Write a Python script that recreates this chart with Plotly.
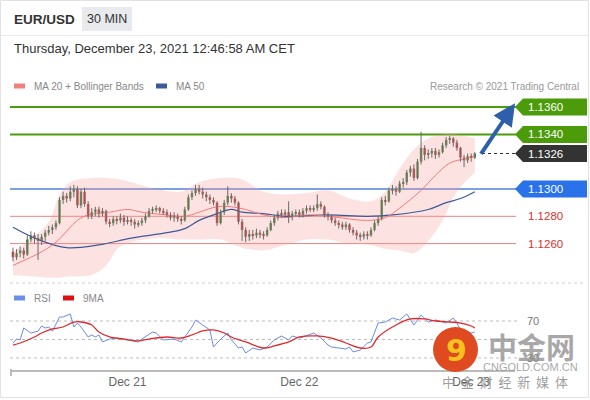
import pandas as pd
import plotly.graph_objects as go

# 30-minute EUR/USD bars, Dec 20 08:00 -> Dec 23 00:30
times = pd.date_range("2021-12-20 08:00", periods=130, freq="30min")

opens = [1.1254, 1.1250, 1.1253, 1.1255, 1.1252, 1.1263, 1.1266, 1.1264, 1.1262, 1.1265,
         1.1268, 1.1270, 1.1272, 1.1275, 1.1292, 1.1295, 1.1293, 1.1298, 1.1300, 1.1288,
         1.1298, 1.1289, 1.1280, 1.1283, 1.1285, 1.1282, 1.1284, 1.1276, 1.1275, 1.1278,
         1.1277, 1.1279, 1.1276, 1.1277, 1.1276, 1.1274, 1.1275, 1.1277, 1.1280, 1.1284,
         1.1285, 1.1286, 1.1284, 1.1283, 1.1281, 1.1279, 1.1280, 1.1278, 1.1277, 1.1285,
         1.1294, 1.1297, 1.1300, 1.1298, 1.1296, 1.1294, 1.1292, 1.1290, 1.1275, 1.1283,
         1.1290, 1.1295, 1.1293, 1.1290, 1.1276, 1.1270, 1.1265, 1.1267, 1.1266, 1.1268,
         1.1267, 1.1266, 1.1270, 1.1275, 1.1279, 1.1282, 1.1281, 1.1283, 1.1280, 1.1282,
         1.1283, 1.1281, 1.1284, 1.1286, 1.1285, 1.1286, 1.1289, 1.1287, 1.1281, 1.1280,
         1.1277, 1.1275, 1.1274, 1.1272, 1.1274, 1.1270, 1.1268, 1.1266, 1.1265, 1.1267,
         1.1266, 1.1270, 1.1275, 1.1278, 1.1292, 1.1291, 1.1299, 1.1300, 1.1298, 1.1304,
         1.1305, 1.1312, 1.1315, 1.1308, 1.1320, 1.1330, 1.1325, 1.1326, 1.1328, 1.1325,
         1.1327, 1.1332, 1.1336, 1.1337, 1.1334, 1.1330, 1.1323, 1.1321, 1.1324, 1.1323]
highs = [1.1257, 1.1256, 1.1258, 1.1257, 1.1266, 1.1269, 1.1268, 1.1267, 1.1267, 1.1270,
         1.1273, 1.1274, 1.1277, 1.1294, 1.1298, 1.1297, 1.1302, 1.1303, 1.1302, 1.1300,
         1.1301, 1.1291, 1.1286, 1.1287, 1.1287, 1.1286, 1.1285, 1.1278, 1.1280, 1.1280,
         1.1282, 1.1281, 1.1280, 1.1279, 1.1278, 1.1277, 1.1279, 1.1282, 1.1286, 1.1287,
         1.1288, 1.1287, 1.1286, 1.1285, 1.1283, 1.1283, 1.1282, 1.1280, 1.1287, 1.1296,
         1.1299, 1.1303, 1.1303, 1.1301, 1.1298, 1.1296, 1.1294, 1.1291, 1.1285, 1.1292,
         1.1302, 1.1297, 1.1295, 1.1291, 1.1278, 1.1272, 1.1270, 1.1270, 1.1271, 1.1270,
         1.1269, 1.1272, 1.1277, 1.1281, 1.1284, 1.1285, 1.1285, 1.1291, 1.1284, 1.1285,
         1.1285, 1.1286, 1.1288, 1.1288, 1.1288, 1.1296, 1.1291, 1.1288, 1.1283, 1.1281,
         1.1279, 1.1277, 1.1276, 1.1276, 1.1275, 1.1272, 1.1270, 1.1268, 1.1269, 1.1269,
         1.1272, 1.1277, 1.1280, 1.1294, 1.1295, 1.1301, 1.1303, 1.1302, 1.1306, 1.1308,
         1.1314, 1.1317, 1.1318, 1.1322, 1.1342, 1.1332, 1.1329, 1.1330, 1.1330, 1.1329,
         1.1334, 1.1338, 1.1339, 1.1338, 1.1336, 1.1331, 1.1325, 1.1326, 1.1326, 1.1327]
lows = [1.1247, 1.1248, 1.1250, 1.1249, 1.1251, 1.1261, 1.1260, 1.1248, 1.1259, 1.1262,
        1.1266, 1.1267, 1.1270, 1.1274, 1.1289, 1.1290, 1.1291, 1.1294, 1.1286, 1.1286,
        1.1287, 1.1278, 1.1278, 1.1280, 1.1279, 1.1280, 1.1274, 1.1272, 1.1273, 1.1274,
        1.1275, 1.1273, 1.1274, 1.1273, 1.1271, 1.1272, 1.1273, 1.1275, 1.1279, 1.1282,
        1.1283, 1.1282, 1.1281, 1.1279, 1.1277, 1.1276, 1.1276, 1.1274, 1.1276, 1.1284,
        1.1292, 1.1295, 1.1296, 1.1293, 1.1291, 1.1289, 1.1288, 1.1273, 1.1274, 1.1281,
        1.1288, 1.1290, 1.1288, 1.1274, 1.1262, 1.1261, 1.1262, 1.1263, 1.1264, 1.1264,
        1.1263, 1.1265, 1.1269, 1.1273, 1.1277, 1.1279, 1.1279, 1.1275, 1.1277, 1.1280,
        1.1279, 1.1279, 1.1282, 1.1283, 1.1283, 1.1284, 1.1285, 1.1279, 1.1277, 1.1275,
        1.1273, 1.1271, 1.1270, 1.1270, 1.1268, 1.1266, 1.1263, 1.1262, 1.1263, 1.1263,
        1.1265, 1.1269, 1.1273, 1.1277, 1.1288, 1.1290, 1.1296, 1.1295, 1.1297, 1.1301,
        1.1303, 1.1309, 1.1306, 1.1307, 1.1318, 1.1321, 1.1322, 1.1323, 1.1322, 1.1323,
        1.1326, 1.1330, 1.1333, 1.1331, 1.1328, 1.1320, 1.1316, 1.1319, 1.1320, 1.1322]
closes = [1.1250, 1.1253, 1.1255, 1.1252, 1.1263, 1.1266, 1.1264, 1.1262, 1.1265, 1.1268,
          1.1270, 1.1272, 1.1275, 1.1292, 1.1295, 1.1293, 1.1298, 1.1300, 1.1288, 1.1298,
          1.1289, 1.1280, 1.1283, 1.1285, 1.1282, 1.1284, 1.1276, 1.1275, 1.1278, 1.1277,
          1.1279, 1.1276, 1.1277, 1.1276, 1.1274, 1.1275, 1.1277, 1.1280, 1.1284, 1.1285,
          1.1286, 1.1284, 1.1283, 1.1281, 1.1279, 1.1280, 1.1278, 1.1277, 1.1285, 1.1294,
          1.1297, 1.1300, 1.1298, 1.1296, 1.1294, 1.1292, 1.1290, 1.1275, 1.1283, 1.1290,
          1.1295, 1.1293, 1.1290, 1.1276, 1.1270, 1.1265, 1.1267, 1.1266, 1.1268, 1.1267,
          1.1266, 1.1270, 1.1275, 1.1279, 1.1282, 1.1281, 1.1283, 1.1280, 1.1282, 1.1283,
          1.1281, 1.1284, 1.1286, 1.1285, 1.1286, 1.1289, 1.1287, 1.1281, 1.1280, 1.1277,
          1.1275, 1.1274, 1.1272, 1.1274, 1.1270, 1.1268, 1.1266, 1.1265, 1.1267, 1.1266,
          1.1270, 1.1275, 1.1278, 1.1292, 1.1291, 1.1299, 1.1300, 1.1298, 1.1304, 1.1305,
          1.1312, 1.1315, 1.1308, 1.1320, 1.1330, 1.1325, 1.1326, 1.1328, 1.1325, 1.1327,
          1.1332, 1.1336, 1.1337, 1.1334, 1.1330, 1.1323, 1.1321, 1.1324, 1.1323, 1.1326]

# indicators at a subset of bars
ma20_idx = [0, 8, 12, 18, 21, 27, 32, 36, 43, 48, 52, 57, 61, 65, 70, 76, 82, 88, 99, 104, 108, 114, 118, 122, 126, 129]
ma20_val = [1.1244, 1.1254, 1.1261, 1.1277, 1.1281, 1.1283, 1.1285, 1.1283, 1.1281, 1.1280, 1.1283, 1.1287, 1.1287,
            1.1285, 1.1281, 1.1279, 1.1281, 1.1280, 1.1277, 1.1279, 1.1286, 1.1299, 1.1310, 1.1319, 1.1322, 1.1324]
ma50_idx = [0, 7, 15, 24, 33, 43, 48, 52, 57, 61, 64, 70, 76, 88, 99, 106, 116, 121, 125, 129]
ma50_val = [1.1272, 1.1263, 1.1257, 1.1259, 1.1264, 1.1268, 1.1271, 1.1277, 1.1282, 1.1285,
            1.1283, 1.1282, 1.1280, 1.1281, 1.1280, 1.1281, 1.1285, 1.1290, 1.1293, 1.1298]
band_idx = [0, 5, 10, 13, 16, 22, 26, 30, 40, 47, 52, 58, 64, 70, 76, 82, 88, 94, 100, 104, 108, 112, 116, 120, 124, 129]
band_upper = [1.1254, 1.1263, 1.1276, 1.1296, 1.1305, 1.1308, 1.1308, 1.1307, 1.1300, 1.1298, 1.1305, 1.1308, 1.1307,
              1.1298, 1.1296, 1.1297, 1.1299, 1.1293, 1.1291, 1.1298, 1.1315, 1.1329, 1.1337, 1.1340, 1.1340, 1.1337]
band_lower = [1.1237, 1.1236, 1.1235, 1.1235, 1.1236, 1.1237, 1.1244, 1.1258, 1.1264, 1.1263, 1.1263, 1.1263, 1.1257,
              1.1255, 1.1259, 1.1263, 1.1263, 1.1260, 1.1259, 1.1256, 1.1255, 1.1253, 1.1262, 1.1277, 1.1298, 1.1312]

rsi_idx = [0, 1, 2, 3, 5, 7, 8, 9, 10, 11, 13, 14, 16, 17, 18, 19, 21, 22, 23, 24, 25, 27, 29, 32, 35, 36, 39, 40, 42,
           45, 47, 49, 50, 51, 53, 55, 56, 58, 60, 61, 63, 64, 65, 67, 69, 71, 73, 75, 77, 78, 80, 81, 84, 86, 88, 89,
           91, 93, 94, 95, 97, 99, 100, 102, 104, 106, 108, 110, 112, 114, 116, 118, 121, 123, 124, 125, 128, 129]
rsi_val = [46, 50.5, 49.5, 62.4, 57, 59, 64.6, 62.4, 63.5, 59, 74.3, 74.3, 77.6, 63.5, 67.8, 63.5, 52.7, 54.9, 52.7,
           54.9, 47.3, 50.5, 51.6, 49.5, 47.3, 50.5, 58.1, 57, 49.5, 50.5, 47.3, 58.1, 63.5, 71, 65.7, 60.3, 41.9, 50.5,
           57, 49.5, 40.8, 41.9, 35.4, 40.8, 38.6, 41.9, 49.5, 53.8, 49.5, 53.8, 51.6, 52.7, 57, 51.6, 44, 41.9, 40.8,
           39.7, 41.9, 36.5, 38.6, 46.2, 47.3, 67.8, 68.9, 73.2, 71.1, 77.6, 65.7, 76.5, 68.9, 71.1, 67.8, 73.2, 67.8,
           60.3, 57, 58.1]
ma9_idx = [0, 2, 6, 8, 11, 14, 17, 19, 22, 24, 27, 31, 35, 38, 43, 47, 50, 53, 56, 59, 61, 65, 70, 73, 77, 80, 85,
           89, 93, 97, 100, 102, 107, 111, 115, 118, 122, 125, 128, 129]
ma9_val = [44, 46.2, 52.7, 57, 61.4, 63.5, 68.9, 68.9, 65.7, 58.1, 52.7, 50.5, 48.4, 50.5, 52.7, 51.6, 54.9, 59.2,
           60.3, 57, 52.7, 47.3, 40.8, 43, 47.3, 52.7, 53.8, 51.6, 46.2, 40.8, 41.9, 52.7, 65.7, 72.2, 72.2, 70, 68.9,
           67.8, 64.6, 62.4]

level_prices = [1.1360, 1.1340, 1.1326, 1.1300, 1.1280, 1.1260]
level_labels = ["1.1360", "1.1340", "1.1326", "1.1300", "1.1280", "1.1260"]
rsi_levels = [70, 50, 30]

W, H = 590, 400
L, R, T, B = 10, 75, 90, 30
PW, PH = W - L - R, H - T - B


def px_x(px):
    return (px - L) / PW


def px_y(py):
    return (H - B - py) / PH


GREEN = "#4c9b0a"
BLUE_LINE = "#7fa0e0"
RED_LINE = "#e88080"
FONT = "Arial"

fig = go.Figure()

# bollinger band fill
fig.add_trace(go.Scatter(x=times[band_idx], y=band_upper, mode="lines", line=dict(width=0, shape="spline"),
                         hoverinfo="skip", yaxis="y"))
fig.add_trace(go.Scatter(x=times[band_idx], y=band_lower, mode="lines", line=dict(width=0, shape="spline"),
                         fill="tonexty", fillcolor="rgba(250,160,160,0.3)", hoverinfo="skip", yaxis="y"))
fig.add_trace(go.Scatter(x=times[ma50_idx], y=ma50_val, mode="lines",
                         line=dict(color="#3d5a98", width=1.2, shape="spline"), yaxis="y"))
fig.add_trace(go.Scatter(x=times[ma20_idx], y=ma20_val, mode="lines",
                         line=dict(color="#f07b7b", width=1, shape="spline"), yaxis="y"))

# candles: wicks + bodies
wx, wy = [], []
for t, h, l in zip(times, highs, lows):
    wx += [t, t, None]
    wy += [h, l, None]
fig.add_trace(go.Scatter(x=wx, y=wy, mode="lines", line=dict(color="#6a6a6a", width=1), yaxis="y"))
bases = [min(o, c) for o, c in zip(opens, closes)]
sizes = [max(abs(c - o), 0.00005) for o, c in zip(opens, closes)]
cols = ["#3e8e36" if c >= o else "#c93434" for o, c in zip(opens, closes)]
fig.add_trace(go.Bar(x=times, y=sizes, base=bases, marker=dict(color=cols, line=dict(width=0)),
                     width=0.7 * 30 * 60 * 1000, yaxis="y"))

# RSI pane
fig.add_trace(go.Scatter(x=times[rsi_idx], y=rsi_val, mode="lines",
                         line=dict(color="#6a8ce2", width=1), yaxis="y2"))
fig.add_trace(go.Scatter(x=times[ma9_idx], y=ma9_val, mode="lines",
                         line=dict(color="#e02a2a", width=1.3, shape="spline"), yaxis="y2"))

shapes = []
annotations = []

# level lines and right-hand labels
lvl_style = {
    "1.1360": dict(line=GREEN, w=2, bg=GREEN, fg="white"),
    "1.1340": dict(line=GREEN, w=2, bg=GREEN, fg="white"),
    "1.1326": dict(line=None, w=0, bg="#333333", fg="white"),
    "1.1300": dict(line=BLUE_LINE, w=2, bg="#2a72ea", fg="white"),
    "1.1280": dict(line=RED_LINE, w=1, bg=None, fg="#d9302c"),
    "1.1260": dict(line=RED_LINE, w=1, bg=None, fg="#d9302c"),
}
price_lo, price_hi = 1.123333, 1.137253
p_per_px = (price_hi - price_lo) / (280 - 90)
for p, txt in zip(level_prices, level_labels):
    st = lvl_style[txt]
    if st["line"]:
        shapes.append(dict(type="line", xref="paper", yref="y", x0=0, x1=px_x(516), y0=p, y1=p,
                           line=dict(color=st["line"], width=st["w"]), layer="below"))
    if st["bg"]:
        h = 8.5 * p_per_px
        x0, x1, x2 = px_x(515), px_x(523), px_x(587)
        path = f"M {x0},{p} L {x1},{p + h} L {x2},{p + h} L {x2},{p - h} L {x1},{p - h} Z"
        shapes.append(dict(type="path", xref="paper", yref="y", path=path,
                           fillcolor=st["bg"], line=dict(width=0)))
    annotations.append(dict(x=px_x(526), y=p, xref="paper", yref="y", text=txt, showarrow=False,
                            xanchor="left", yanchor="middle",
                            font=dict(family=FONT, size=11.5, color=st["fg"])))

# dotted link from last price to its label
shapes.append(dict(type="line", xref="paper", yref="y", x0=px_x(482), x1=px_x(515),
                   y0=closes[-1], y1=closes[-1], line=dict(color="#333", width=1, dash="dot")))

# forecast arrow
annotations.append(dict(x=px_x(515), y=1.13628, xref="paper", yref="y", ax=-35, ay=52,
                        showarrow=True, arrowhead=2, arrowsize=1.1, arrowwidth=4,
                        arrowcolor="#2e5faa", text=""))

# RSI guide lines
for v in rsi_levels:
    shapes.append(dict(type="line", xref="paper", yref="y2", x0=0, x1=px_x(517), y0=v, y1=v,
                       line=dict(color="#bdbdbd", width=1, dash="dot"), layer="below"))
for v in [70, 30]:
    annotations.append(dict(x=px_x(525), y=v, xref="paper", yref="y2", text=str(v), showarrow=False,
                            xanchor="left", yanchor="middle", font=dict(family=FONT, size=11, color="#777")))

# pane separator, axis tick, frame, header line
shapes.append(dict(type="line", xref="paper", yref="paper", x0=0, x1=px_x(585), y0=px_y(283), y1=px_y(283),
                   line=dict(color="#d0d0d0", width=1, dash="dot")))
shapes.append(dict(type="line", xref="paper", yref="paper", x0=px_x(11), x1=px_x(11), y0=px_y(369), y1=px_y(376),
                   line=dict(color="#bbb", width=2)))
shapes.append(dict(type="rect", xref="paper", yref="paper", x0=px_x(0.5), x1=px_x(588.5),
                   y0=px_y(397.5), y1=px_y(0.5), line=dict(color="#e2e2e2", width=1)))
shapes.append(dict(type="line", xref="paper", yref="paper", x0=px_x(0.5), x1=px_x(588.5),
                   y0=px_y(35.5), y1=px_y(35.5), line=dict(color="#ececec", width=1)))

# header
shapes.append(dict(type="rect", xref="paper", yref="paper", x0=px_x(82), x1=px_x(132), y0=px_y(31), y1=px_y(7),
                   fillcolor="#e8eaed", line=dict(width=0)))
annotations.append(dict(x=px_x(12), y=px_y(19), xref="paper", yref="paper", text="<b>EUR/USD</b>",
                        showarrow=False, xanchor="left", yanchor="middle",
                        font=dict(family=FONT, size=13.5, color="#333")))
annotations.append(dict(x=px_x(107), y=px_y(19), xref="paper", yref="paper", text="30 MIN",
                        showarrow=False, xanchor="center", yanchor="middle",
                        font=dict(family=FONT, size=12.5, color="#333")))
annotations.append(dict(x=px_x(12), y=px_y(48), xref="paper", yref="paper",
                        text="Thursday, December 23, 2021 12:46:58 AM CET",
                        showarrow=False, xanchor="left", yanchor="middle",
                        font=dict(family=FONT, size=13, color="#333")))


# legends
def legend_item(x_sw, x_txt, y, color, text):
    shapes.append(dict(type="rect", xref="paper", yref="paper", x0=px_x(x_sw), x1=px_x(x_sw + 11),
                       y0=px_y(y + 2.5), y1=px_y(y - 2.5), fillcolor=color, line=dict(width=0)))
    annotations.append(dict(x=px_x(x_txt), y=px_y(y), xref="paper", yref="paper", text=text,
                            showarrow=False, xanchor="left", yanchor="middle",
                            font=dict(family=FONT, size=10, color="#888")))


legend_item(14, 32, 86, "#f47f7f", "MA 20 + Bollinger Bands")
legend_item(156, 174, 86, "#3a5a98", "MA 50")
legend_item(14, 32, 298, "#6b8ee6", "RSI")
legend_item(63, 81, 298, "#e01010", "9MA")
annotations.append(dict(x=px_x(581), y=px_y(86), xref="paper", yref="paper",
                        text="Research © 2021 Trading Central", showarrow=False,
                        xanchor="right", yanchor="middle", font=dict(family=FONT, size=10, color="#999")))


# watermark
def mark(x, y, text, family, size, color):
    annotations.append(dict(x=px_x(x), y=px_y(y), xref="paper", yref="paper", text=text, showarrow=False,
                            xanchor="center", yanchor="middle", font=dict(family=family, size=size, color=color)))


shapes.append(dict(type="circle", xref="paper", yref="paper", x0=px_x(433), x1=px_x(478),
                   y0=px_y(372), y1=px_y(327), fillcolor="#df4a20", line=dict(width=0)))
mark(456, 350, "<b>9</b>", "DejaVu Sans", 30, "#f7c21c")
mark(531, 346, "<b>中金网</b>", "Noto Sans CJK SC", 29, "rgba(140,140,140,0.75)")
mark(530, 367, "CNGOLD.COM.CN", FONT, 11, "rgba(150,150,150,0.85)")
mark(505, 381, "中\u00a0\u00a0金\u00a0\u00a0财\u00a0\u00a0经\u00a0\u00a0新\u00a0\u00a0媒\u00a0\u00a0体",
     "Noto Sans CJK SC", 13, "rgba(140,140,140,0.85)")

fig.update_layout(
    width=W, height=H,
    margin=dict(l=L, r=R, t=T, b=B),
    paper_bgcolor="white", plot_bgcolor="white",
    showlegend=False, barmode="overlay",
    xaxis=dict(range=["2021-12-20 07:35", "2021-12-23 06:07"], anchor="y2",
               tickvals=["2021-12-21", "2021-12-22", "2021-12-23"], ticktext=["Dec 21", "Dec 22", "Dec 23"],
               showgrid=False, zeroline=False, showline=True, linecolor="#bbbbbb", linewidth=2,
               tickfont=dict(family=FONT, size=12, color="#666"), rangeslider=dict(visible=False)),
    yaxis=dict(domain=[px_y(280), 1], range=[price_lo, price_hi], visible=False, showgrid=False),
    yaxis2=dict(domain=[0, px_y(300)], range=[17.0, 92.7], visible=False, showgrid=False),
    shapes=shapes,
    annotations=annotations,
)

fig.write_html("out.html", config={"displayModeBar": False},
               post_script="document.body.style.margin='0';")
